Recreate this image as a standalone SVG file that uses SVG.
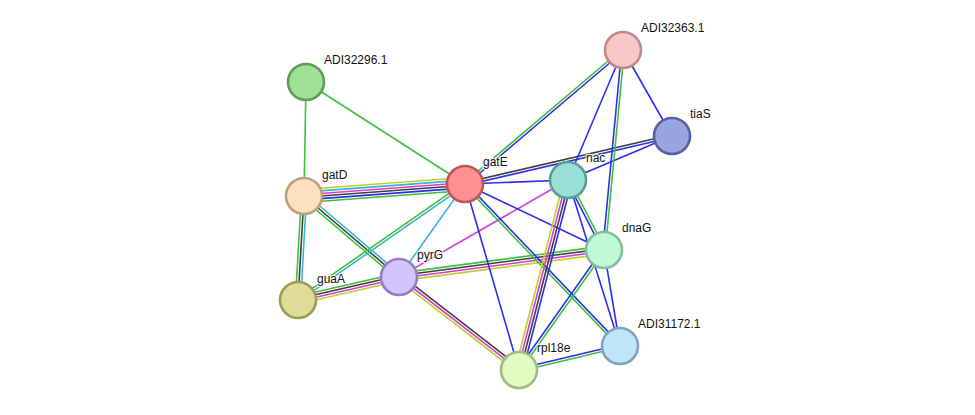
<svg xmlns="http://www.w3.org/2000/svg" width="975" height="415" viewBox="0 0 975 415">
<style>
line{stroke-width:1.6;fill:none}
.g{stroke:#3cc23c}.b{stroke:#2e2ef0}.k{stroke:#404040}.m{stroke:#d43ed4}.y{stroke:#bcd02e}.c{stroke:#3ab4d6}
circle{stroke-width:2.6}
text{font-family:"Liberation Sans",Arial,sans-serif;font-size:12px;fill:#111;stroke:#fff;stroke-width:2.5;stroke-opacity:0.8;paint-order:stroke;stroke-linejoin:round}
</style>
<rect width="975" height="415" fill="#fff"/>
<g id="connectors">
<line class="g" x1="306" y1="82" x2="304" y2="196"/>
<line class="g" x1="306" y1="82" x2="465" y2="184"/>
<line class="y" x1="303.5" y1="189.5" x2="464.5" y2="177.5"/>
<line class="c" x1="303.7" y1="192.1" x2="464.7" y2="180.1"/>
<line class="m" x1="303.9" y1="194.7" x2="464.9" y2="182.7"/>
<line class="k" x1="304.1" y1="197.3" x2="465.1" y2="185.3"/>
<line class="b" x1="304.3" y1="199.9" x2="465.3" y2="187.9"/>
<line class="g" x1="304.5" y1="202.5" x2="465.5" y2="190.5"/>
<line class="g" x1="301.4" y1="196" x2="295.4" y2="300"/>
<line class="k" x1="304" y1="196" x2="298" y2="300"/>
<line class="c" x1="306.6" y1="196" x2="300.6" y2="300"/>
<line class="c" x1="305.7" y1="194" x2="400.7" y2="275"/>
<line class="k" x1="304" y1="196" x2="399" y2="277"/>
<line class="g" x1="302.3" y1="198" x2="397.3" y2="279"/>
<line class="g" x1="464.3" y1="182.9" x2="297.3" y2="298.9"/>
<line class="c" x1="465.7" y1="185.1" x2="298.7" y2="301.1"/>
<line class="c" x1="465" y1="184" x2="399" y2="277"/>
<line class="g" x1="297.1" y1="296.2" x2="398.1" y2="273.2"/>
<line class="k" x1="297.7" y1="298.7" x2="398.7" y2="275.7"/>
<line class="m" x1="298.3" y1="301.3" x2="399.3" y2="278.3"/>
<line class="y" x1="298.9" y1="303.8" x2="399.9" y2="280.8"/>
<line class="g" x1="398.5" y1="273.1" x2="603.5" y2="246.1"/>
<line class="k" x1="398.8" y1="275.7" x2="603.8" y2="248.7"/>
<line class="m" x1="399.2" y1="278.3" x2="604.2" y2="251.3"/>
<line class="y" x1="399.5" y1="280.9" x2="604.5" y2="253.9"/>
<line class="k" x1="400.6" y1="274.9" x2="520.6" y2="367.9"/>
<line class="m" x1="399" y1="277" x2="519" y2="370"/>
<line class="y" x1="397.4" y1="279.1" x2="517.4" y2="372.1"/>
<line class="m" x1="399" y1="277" x2="568" y2="180"/>
<line class="b" x1="465" y1="184" x2="568" y2="180"/>
<line class="k" x1="464.7" y1="182.7" x2="671.7" y2="134.7"/>
<line class="b" x1="465.3" y1="185.3" x2="672.3" y2="137.3"/>
<line class="g" x1="464.2" y1="183" x2="622.2" y2="49"/>
<line class="b" x1="465.8" y1="185" x2="623.8" y2="51"/>
<line class="b" x1="465" y1="184" x2="604" y2="250"/>
<line class="b" x1="465" y1="184" x2="519" y2="370"/>
<line class="g" x1="464.1" y1="184.9" x2="619.1" y2="346.9"/>
<line class="b" x1="465.9" y1="183.1" x2="620.9" y2="345.1"/>
<line class="b" x1="568" y1="180" x2="623" y2="50"/>
<line class="b" x1="568" y1="180" x2="672" y2="136"/>
<line class="b" x1="566.8" y1="180.6" x2="602.8" y2="250.6"/>
<line class="g" x1="569.2" y1="179.4" x2="605.2" y2="249.4"/>
<line class="y" x1="564.2" y1="179" x2="515.2" y2="369"/>
<line class="m" x1="566.7" y1="179.7" x2="517.7" y2="369.7"/>
<line class="k" x1="569.3" y1="180.3" x2="520.3" y2="370.3"/>
<line class="b" x1="571.8" y1="181" x2="522.8" y2="371"/>
<line class="b" x1="568" y1="180" x2="620" y2="346"/>
<line class="b" x1="623" y1="50" x2="672" y2="136"/>
<line class="b" x1="621.7" y1="50" x2="602.7" y2="250"/>
<line class="g" x1="624.3" y1="50" x2="605.3" y2="250"/>
<line class="b" x1="602.9" y1="249.2" x2="517.9" y2="369.2"/>
<line class="g" x1="605.1" y1="250.8" x2="520.1" y2="370.8"/>
<line class="b" x1="604" y1="250" x2="620" y2="346"/>
<line class="b" x1="518.7" y1="368.7" x2="619.7" y2="344.7"/>
<line class="g" x1="519.3" y1="371.3" x2="620.3" y2="347.3"/>
</g>
<g id="ADI32296.1"><circle cx="306" cy="82" r="18" fill="#a0e096" stroke="#5e9e56"/><text x="324" y="64">ADI32296.1</text></g>
<g id="gatD"><circle cx="304" cy="196" r="18" fill="#fddfc2" stroke="#c0a07e"/><text x="322" y="179">gatD</text></g>
<g id="guaA"><circle cx="298" cy="300" r="18" fill="#dedc98" stroke="#9e9c56"/><text x="317" y="283">guaA</text></g>
<g id="pyrG"><circle cx="399" cy="277" r="18" fill="#d4c4fc" stroke="#9480c4"/><text x="417" y="259">pyrG</text></g>
<g id="gatE"><circle cx="465" cy="184" r="18" fill="#fd9090" stroke="#c05656"/><text x="483" y="166">gatE</text></g>
<g id="nac"><circle cx="568" cy="180" r="18" fill="#98e0d6" stroke="#5a9e96"/><text x="586" y="162">nac</text></g>
<g id="ADI32363.1"><circle cx="623" cy="50" r="18" fill="#f8c8c8" stroke="#c08888"/><text x="641" y="32">ADI32363.1</text></g>
<g id="tiaS"><circle cx="672" cy="136" r="18" fill="#98a4e0" stroke="#5860a0"/><text x="690" y="118">tiaS</text></g>
<g id="dnaG"><circle cx="604" cy="250" r="18" fill="#c0f8d8" stroke="#80c09a"/><text x="622" y="232">dnaG</text></g>
<g id="ADI31172.1"><circle cx="620" cy="346" r="18" fill="#c0e4f8" stroke="#80a4c0"/><text x="638" y="328">ADI31172.1</text></g>
<g id="rpl18e"><circle cx="519" cy="370" r="18" fill="#e0fcc0" stroke="#a0bc80"/><text x="537" y="352">rpl18e</text></g>
</svg>
